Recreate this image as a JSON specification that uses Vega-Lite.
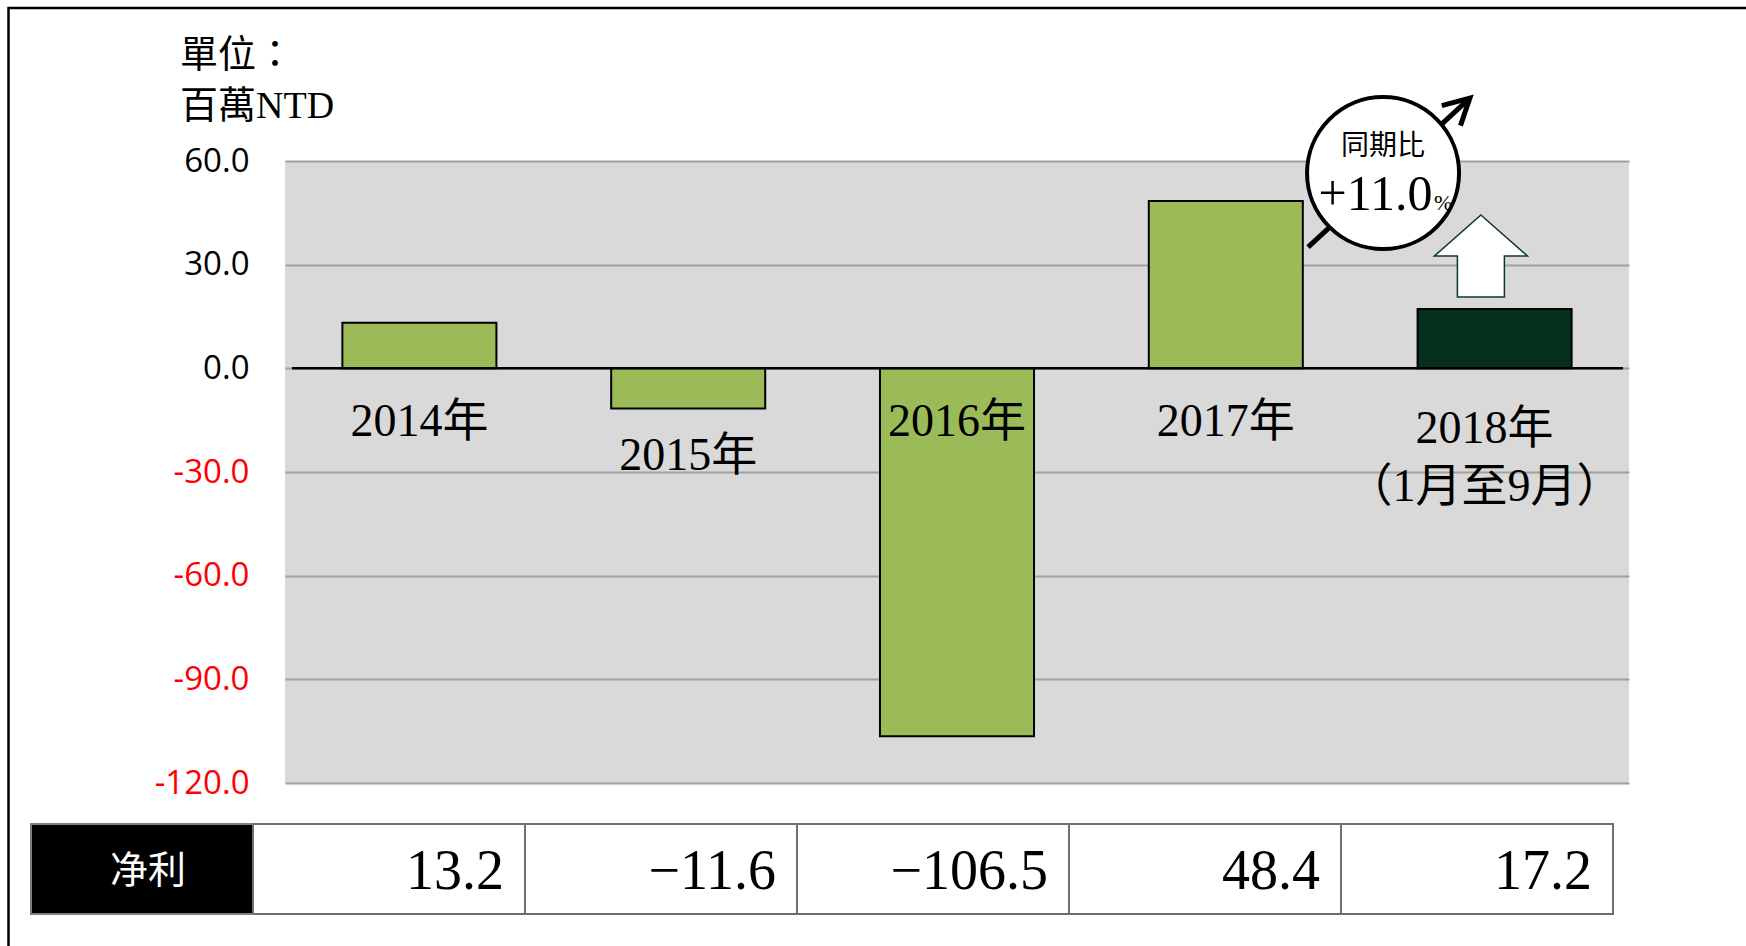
{
  "$schema": "https://vega.github.io/schema/vega-lite/v6.json",
  "width": 1344,
  "height": 622,
  "autosize": {"type": "none"},
  "padding": {"left": 285, "top": 161, "right": 117, "bottom": 163},
  "background": "white",
  "config": {"view": {"fill": "#d9d9d9", "stroke": null}},
  "datasets": {
    "profit": [
      {"year": "2014", "label": "2014年", "value": 13.2},
      {"year": "2015", "label": "2015年", "value": -11.6},
      {"year": "2016", "label": "2016年", "value": -106.5},
      {"year": "2017", "label": "2017年", "value": 48.4},
      {"year": "2018", "label": "2018年\n（1月至9月）", "value": 17.2}
    ]
  },
  "layer": [
    {
      "data": {"name": "profit"},
      "encoding": {
        "x": {"field": "year", "type": "nominal", "sort": null, "axis": null,
              "scale": {"paddingInner": 0.427, "paddingOuter": 0.2135}}
      },
      "layer": [
        {
          "mark": {"type": "bar", "stroke": "black", "strokeWidth": 2},
          "encoding": {
            "y": {"field": "value", "type": "quantitative",
                  "scale": {"domain": [-120, 60], "nice": false},
                  "axis": {"title": null, "values": [-120, -90, -60, -30, 0, 30, 60],
                           "labelExpr": "replace(format(datum.value, '.1f'), '\u2212', '-')",
                           "labelFont": "Open Sans", "labelFontSize": 33, "labelPadding": 36,
                           "labelColor": {"condition": {"test": "datum.value < 0", "value": "#ff0000"}, "value": "black"},
                           "ticks": false, "domain": false,
                           "grid": true, "gridColor": "#a0a0a0", "gridWidth": 2}},
            "color": {"field": "year", "type": "nominal", "legend": null,
                      "scale": {"domain": ["2014", "2015", "2016", "2017", "2018"],
                                "range": ["#9bbb59", "#9bbb59", "#9bbb59", "#9bbb59", "#07301c"]}}
          }
        },
        {
          "transform": [{"filter": "datum.year == '2014' || datum.year == '2016' || datum.year == '2017'"}],
          "mark": {"type": "text", "font": "Liberation Serif, Noto Sans CJK TC", "fontSize": 46, "baseline": "middle", "color": "black"},
          "encoding": {"y": {"datum": -15.5}, "text": {"field": "label"}}
        },
        {
          "transform": [{"filter": "datum.year == '2015'"}],
          "mark": {"type": "text", "font": "Liberation Serif, Noto Sans CJK TC", "fontSize": 46, "baseline": "middle", "color": "black"},
          "encoding": {"y": {"datum": -25.5}, "text": {"field": "label"}}
        },
        {
          "transform": [{"filter": "datum.year == '2018'"}],
          "mark": {"type": "text", "font": "Liberation Serif, Noto Sans CJK TC", "fontSize": 46, "baseline": "middle", "color": "black", "lineBreak": "\n", "lineHeight": 58, "dx": -10},
          "encoding": {"y": {"datum": -17.6}, "text": {"field": "label"}}
        }
      ]
    },
    {
      "data": {"values": [{}]},
      "layer": [
        {
          "mark": {"type": "rule", "stroke": "black", "strokeWidth": 2.5},
          "encoding": {
            "x": {"datum": 0.026, "type": "quantitative", "scale": {"domain": [0, 5], "nice": false, "zero": false}, "axis": null},
            "x2": {"datum": 4.978},
            "y": {"datum": 0}
          }
        },
        {
          "mark": {"type": "rule", "stroke": "black", "strokeWidth": 5},
          "encoding": {
            "x": {"datum": 3.806, "type": "quantitative", "scale": {"domain": [0, 5], "nice": false, "zero": false}, "axis": null},
            "x2": {"datum": 4.40},
            "y": {"datum": 35.1},
            "y2": {"datum": 77.6}
          }
        },
        {
          "mark": {"type": "point", "shape": "M-0.47,0.88L0,0L0.47,0.88", "filled": false, "stroke": "black", "strokeWidth": 5, "size": 3400, "angle": 47, "opacity": 1},
          "encoding": {
            "x": {"datum": 4.408, "type": "quantitative", "scale": {"domain": [0, 5], "nice": false, "zero": false}, "axis": null},
            "y": {"datum": 78.2}
          }
        },
        {
          "mark": {"type": "point", "shape": "circle", "filled": true, "fill": "white", "stroke": "black", "strokeWidth": 4, "size": 23104, "opacity": 1},
          "encoding": {
            "x": {"datum": 4.085, "type": "quantitative", "scale": {"domain": [0, 5], "nice": false, "zero": false}, "axis": null},
            "y": {"datum": 56.5}
          }
        },
        {
          "mark": {"type": "text", "text": "同期比", "font": "Noto Sans CJK TC", "fontSize": 28, "baseline": "middle", "align": "center", "color": "black"},
          "encoding": {
            "x": {"datum": 4.085, "type": "quantitative", "scale": {"domain": [0, 5], "nice": false, "zero": false}, "axis": null},
            "y": {"datum": 64.0}
          }
        },
        {
          "mark": {"type": "text", "text": "+11.0", "font": "Liberation Serif", "fontSize": 50, "baseline": "alphabetic", "align": "center", "color": "black"},
          "encoding": {
            "x": {"datum": 4.057, "type": "quantitative", "scale": {"domain": [0, 5], "nice": false, "zero": false}, "axis": null},
            "y": {"datum": 45.8}
          }
        },
        {
          "mark": {"type": "text", "text": "%", "font": "Liberation Serif", "fontSize": 22, "baseline": "alphabetic", "align": "left", "color": "black"},
          "encoding": {
            "x": {"datum": 4.275, "type": "quantitative", "scale": {"domain": [0, 5], "nice": false, "zero": false}, "axis": null},
            "y": {"datum": 45.8}
          }
        },
        {
          "mark": {"type": "point", "shape": "M0,-0.82L0.93,0L0.47,0L0.47,0.82L-0.47,0.82L-0.47,0L-0.93,0Z", "filled": true, "fill": "white", "stroke": "#0c3a1f", "strokeWidth": 1.5, "size": 10000, "opacity": 1},
          "encoding": {
            "x": {"datum": 4.449, "type": "quantitative", "scale": {"domain": [0, 5], "nice": false, "zero": false}, "axis": null},
            "y": {"datum": 32.5}
          }
        },
        {
          "mark": {"type": "text", "text": "單位：\n百萬NTD", "lineBreak": "\n", "lineHeight": 51, "font": "Liberation Serif, Noto Sans CJK TC", "fontSize": 38, "baseline": "middle", "align": "left", "color": "black"},
          "encoding": {
            "x": {"datum": -0.3906, "type": "quantitative", "scale": {"domain": [0, 5], "nice": false, "zero": false}, "axis": null},
            "y": {"datum": 90.4}
          }
        },
        {
          "mark": {"type": "rect", "fill": "black", "stroke": "#7f7f7f", "strokeWidth": 2},
          "encoding": {
            "x": {"datum": -0.945, "type": "quantitative", "scale": {"domain": [0, 5], "nice": false, "zero": false}, "axis": null},
            "x2": {"datum": -0.119},
            "y": {"datum": -131.9},
            "y2": {"datum": -157.9}
          }
        },
        {
          "mark": {"type": "text", "text": "净利", "font": "Noto Sans CJK SC", "fontSize": 38, "baseline": "middle", "align": "center", "color": "white"},
          "encoding": {
            "x": {"datum": -0.51, "type": "quantitative", "scale": {"domain": [0, 5], "nice": false, "zero": false}, "axis": null},
            "y": {"datum": -145.7}
          }
        },
        {
          "mark": {"type": "rect", "filled": false, "fill": null, "stroke": "black", "strokeWidth": 2.5},
          "encoding": {
            "x": {"datum": -1.0286, "type": "quantitative", "scale": {"domain": [0, 5], "nice": false, "zero": false}, "axis": null},
            "x2": {"datum": 5.5},
            "y": {"datum": 104.3},
            "y2": {"datum": -180}
          }
        }
      ]
    },
    {
      "data": {"name": "profit"},
      "encoding": {
        "x": {"field": "year", "type": "nominal", "sort": null, "axis": null,
              "scale": {"range": [-32, 1328], "paddingInner": 0, "paddingOuter": 0}}
      },
      "layer": [
        {
          "mark": {"type": "rect", "fill": "white", "stroke": "#6f6f6f", "strokeWidth": 2},
          "encoding": {"y": {"datum": -131.9}, "y2": {"datum": -157.9}}
        },
        {
          "mark": {"type": "text", "font": "Liberation Serif", "fontSize": 56, "baseline": "middle", "align": "right", "dx": -21, "color": "black"},
          "encoding": {
            "x": {"field": "year", "type": "nominal", "sort": null, "axis": null, "bandPosition": 1,
                  "scale": {"range": [-32, 1328], "paddingInner": 0, "paddingOuter": 0}},
            "y": {"datum": -145.7},
            "text": {"field": "value", "type": "quantitative", "format": ".1f"}
          }
        }
      ]
    }
  ],
  "resolve": {"scale": {"x": "independent"}, "axis": {"x": "independent"}}
}
